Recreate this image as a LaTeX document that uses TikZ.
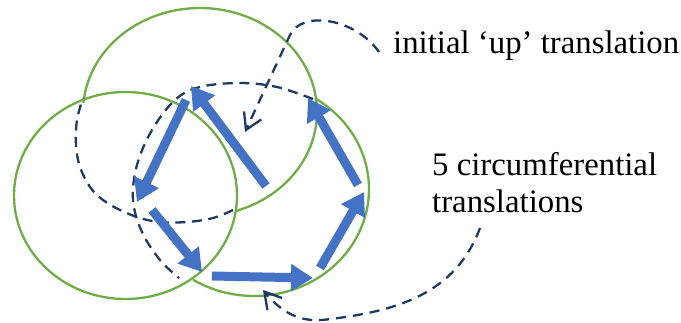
\documentclass[tikz,border=0pt]{standalone}
\usepackage{fontspec}
\setmainfont{Liberation Serif}
\usetikzlibrary{arrows.meta}
\definecolor{cgreen}{HTML}{70AD47}
\definecolor{cblue}{HTML}{4472C4}
\definecolor{cnavy}{HTML}{1F3864}
\begin{document}
\begin{tikzpicture}[x=1pt,y=-1pt,
  ring/.style={draw=cgreen, line width=2.3pt},
  hidden/.style={draw=cnavy, line width=2.3pt, dash pattern=on 10pt off 6.5pt},
  callout/.style={draw=cnavy, line width=2.3pt, dash pattern=on 10pt off 7pt, -{Straight Barb[length=16pt,width=19pt]}},
  move/.style={draw=cblue, line width=9pt, -{Triangle[length=22pt,width=26pt]}},
  lbl/.style={font=\fontsize{32.8}{37}\selectfont, inner sep=0pt, align=left}
]
\useasboundingbox (0,0) rectangle (681,322);
% circles
\draw[ring] (125.5,195.5) ellipse [x radius=111.5, y radius=103.5];
\draw[ring] plot[domain=185:432, samples=90, variable=\t] ({200+117*cos(\t)},{112+104*sin(\t)});
\draw[ring] plot[domain=-58:122, samples=70, variable=\t] ({254+115*cos(\t)},{189+107*sin(\t)});
% hidden parts
\draw[hidden] plot[smooth, tension=0.6] coordinates {(313,99) (277,87) (240,83) (200,87) (175,100) (152,130) (137,165) (133,200) (142,232) (160,260) (179,278)};
\draw[hidden] plot[smooth, tension=0.6] coordinates {(233,210) (213,218) (187,222) (160,222) (140,218) (120,210) (103,200) (90,187) (80,167) (76,145) (77,120) (83,98)};
% labels
\node[lbl, anchor=base west] (init) at (393,53) {initial ‘up’ translation};
\node[lbl, anchor=base west] (circ) at (432,212) {5 circumferential\\translations};
% callouts
\coordinate (upend) at (245,132);
\coordinate (circend) at (263,290);
\draw[callout] ([shift={(-14,-1)}]init.base west) .. controls (355,18) and (302,10) .. (290,35) -- (upend);
\draw[callout] ([shift={(48,16)}]circ.base west) .. controls (455,295) and (395,312) .. (322,320) .. controls (295,322) and (278,308) .. (circend);
% translations
\coordinate (a1s) at (266,186); \coordinate (a1e) at (191,86);
\coordinate (a2s) at (186,100); \coordinate (a2e) at (137,202);
\coordinate (a3s) at (152,210); \coordinate (a3e) at (202,272);
\coordinate (a4s) at (212,276); \coordinate (a4e) at (313,278);
\coordinate (a5s) at (320,268); \coordinate (a5e) at (364,192);
\coordinate (a6s) at (358,185); \coordinate (a6e) at (308,98);
\draw[move] (a1s) -- (a1e);
\draw[move] (a2s) -- (a2e);
\draw[move] (a3s) -- (a3e);
\draw[move] (a4s) -- (a4e);
\draw[move] (a5s) -- (a5e);
\draw[move] (a6s) -- (a6e);
\end{tikzpicture}
\end{document}
